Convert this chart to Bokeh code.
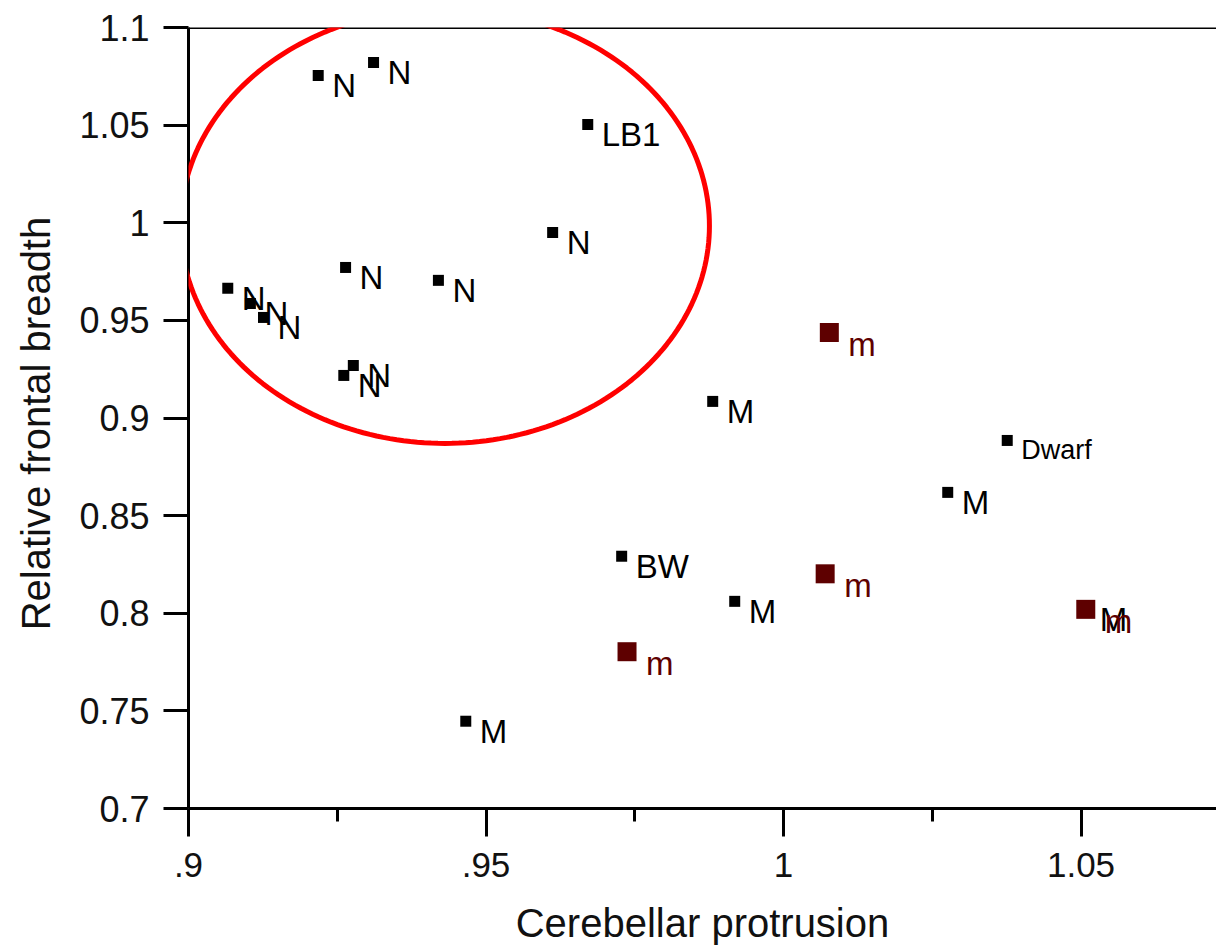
import math
from bokeh.plotting import figure
from bokeh.models import ColumnDataSource, FixedTicker, CustomJSTickFormatter, Span, PolyAnnotation
from bokeh.core.properties import value
from bokeh.embed import file_html
from bokeh.resources import INLINE

# ---- data ----
black_labels = ["N", "N", "LB1", "N", "N", "N", "N", "N", "N", "N", "N",
                "M", "Dwarf", "M", "BW", "M", "M", "M"]
black_x = [0.9218, 0.9311, 0.9671, 0.9612, 0.9264, 0.9420, 0.9066, 0.9104, 0.9126,
           0.9261, 0.9277, 0.9881, 1.0376, 1.0276, 0.9728, 0.9918, 0.9466, 1.0508]
black_y = [1.0754, 1.0821, 1.0503, 0.9950, 0.9771, 0.9705, 0.9664, 0.9587, 0.9515,
           0.9218, 0.9269, 0.9085, 0.8885, 0.8619, 0.8292, 0.8061, 0.7447, 0.8020]

red_labels = ["m", "m", "m", "m"]
red_x = [1.0077, 1.0070, 0.9737, 1.0508]
red_y = [0.9438, 0.8202, 0.7803, 0.8020]

x_ticks = [0.9, 0.95, 1.0, 1.05]
x_minor_ticks = [0.925, 0.975, 1.025]
y_ticks = [0.7, 0.75, 0.8, 0.85, 0.9, 0.95, 1.0, 1.05, 1.1]

x_title = "Cerebellar protrusion"
y_title = "Relative  frontal breadth"

# highlight ellipse (centre and semi-axes in data units)
ell_cx, ell_cy, ell_a, ell_b = 0.9431, 0.9984, 0.04445, 0.1114

FONT = "Liberation Sans"
DARK_RED = "#5e0000"

p = figure(width=1216, height=948,
           x_range=(0.9, 1.07277), y_range=(0.7, 1.1),
           output_backend="svg", toolbar_location=None,
           min_border_left=188, min_border_right=0,
           min_border_top=27, min_border_bottom=140)
p.grid.visible = False
p.outline_line_color = None
p.background_fill_color = "white"
p.border_fill_color = "white"

# axes
p.xaxis.ticker = FixedTicker(ticks=x_ticks, minor_ticks=x_minor_ticks)
p.yaxis.ticker = FixedTicker(ticks=y_ticks)
p.xaxis.formatter = CustomJSTickFormatter(code="""
let s = String(Number(tick.toFixed(4)));
return s.startsWith("0.") ? s.slice(1) : s;
""")
p.yaxis.formatter = CustomJSTickFormatter(code="return String(Number(tick.toFixed(4)));")

for ax in (p.xaxis, p.yaxis):
    ax.axis_line_width = 3
    ax.axis_line_color = "black"
    ax.major_tick_line_width = 3
    ax.major_tick_line_color = "black"
    ax.minor_tick_line_width = 3
    ax.minor_tick_line_color = "black"
    ax.major_tick_in = 0
    ax.minor_tick_in = 0
    ax.major_label_text_font = FONT
    ax.major_label_text_color = "#111111"
    ax.axis_label_text_font = FONT
    ax.axis_label_text_font_style = "normal"
    ax.axis_label_text_font_size = "40px"
    ax.axis_label_text_color = "#111111"

p.xaxis.major_tick_out = 28
p.xaxis.minor_tick_out = 13
p.xaxis.major_label_text_font_size = "35px"
p.xaxis.major_label_standoff = 16
p.xaxis.axis_label = x_title
p.xaxis.axis_label_standoff = 21

p.yaxis.major_tick_out = 25
p.yaxis.minor_tick_out = 0
p.yaxis.major_label_text_font_size = "36px"
p.yaxis.major_label_standoff = 14
p.yaxis.axis_label = y_title
p.yaxis.axis_label_standoff = 18

# top border line
p.add_layout(Span(location=1.1, dimension="width", line_color="black", line_width=3))

# data
black_src = ColumnDataSource(dict(
    x=black_x, y=black_y, label=black_labels,
    fs=["27px" if l == "Dwarf" else "33px" for l in black_labels]))
red_src = ColumnDataSource(dict(x=red_x, y=red_y, label=red_labels))

p.scatter(x="x", y="y", source=black_src, marker="square", size=11,
          fill_color="black", line_color=None)
p.text(x="x", y="y", text="label", source=black_src, x_offset=14, y_offset=10,
       text_font=value(FONT), text_font_size="fs", text_color="black",
       text_align="left", text_baseline="alphabetic")

p.scatter(x="x", y="y", source=red_src, marker="square", size=19,
          fill_color=DARK_RED, line_color=None)
p.text(x="x", y="y", text="label", source=red_src, x_offset=19, y_offset=12,
       text_font=value(FONT), text_font_size="33px", text_color=DARK_RED,
       text_align="left", text_baseline="alphabetic")

# red highlight ellipse
n = 240
ex = [ell_cx + ell_a * math.cos(2 * math.pi * i / n) for i in range(n)]
ey = [ell_cy + ell_b * math.sin(2 * math.pi * i / n) for i in range(n)]
p.add_layout(PolyAnnotation(xs=ex, ys=ey, xs_units="data", ys_units="data",
                            line_color="red", line_alpha=1.0, line_width=5,
                            fill_color=None, fill_alpha=0))

open("out.html", "w").write(file_html(p, INLINE))
